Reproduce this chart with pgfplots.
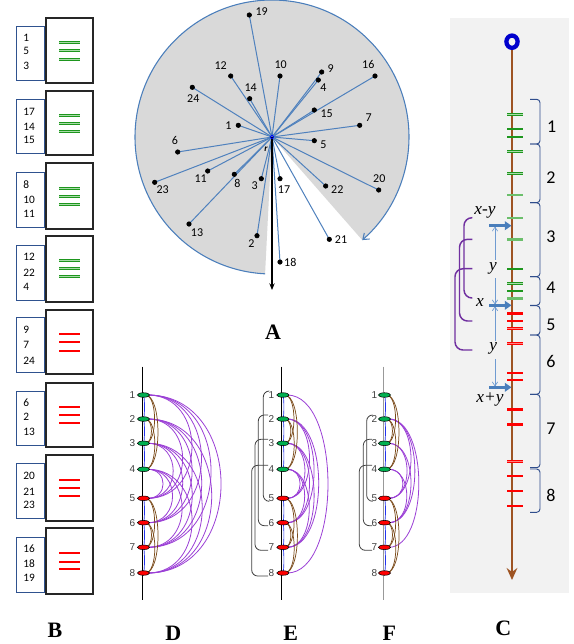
\documentclass[border=0pt]{standalone}
\usepackage{fontspec}
\setmainfont{Carlito}
\newfontfamily\serifF{Liberation Serif}
\newfontfamily\sansF{Liberation Sans}
\usepackage{pgfplots}
\pgfplotsset{compat=1.18}
\usepackage{pgfplotstable}
\usetikzlibrary{arrows.meta}

\definecolor{lineblue}{HTML}{4F81BD}
\definecolor{circblue}{HTML}{4A7EBB}
\definecolor{sectorgray}{HTML}{D9D9D9}
\definecolor{bgC}{HTML}{F2F2F2}
\definecolor{brownC}{HTML}{9E5423}
\definecolor{ringblue}{HTML}{0000CD}
\definecolor{gDark}{HTML}{1E961E}
\definecolor{gLight}{HTML}{A8DCA8}
\definecolor{gThick}{HTML}{6CBF6C}
\definecolor{rLight}{HTML}{FF8080}
\definecolor{purp}{HTML}{9B3FD6}
\definecolor{arcbrown}{HTML}{7A4A1A}
\definecolor{nodegreen}{HTML}{00B050}
\definecolor{brackblue}{HTML}{2F4D8C}
\definecolor{brackpurple}{HTML}{7030A0}
\definecolor{arrowblue}{HTML}{4A7EBB}
\definecolor{dimblue}{HTML}{6F9BD1}
\definecolor{boxblue}{HTML}{2F528F}
\definecolor{labgray}{HTML}{404040}
\definecolor{connblue}{HTML}{2233EE}

\newcommand\fsA{\fontsize{9}{10}\selectfont}
\newcommand\fsB{\fontsize{8.5}{10}\selectfont}
\newcommand\fsC{\fontsize{13.5}{14}\selectfont}
\newcommand\fsN{\sansF\fontsize{7.5}{8}\selectfont}
\newcommand\fsL{\serifF\bfseries\fontsize{16.5}{17}\selectfont}
\newcommand\fsX{\serifF\itshape\fontsize{13}{13}\selectfont}

\tikzset{
  parcs/.style={purp, line width=0.6pt},
  barcs/.style={arcbrown, line width=0.55pt},
  blarcs/.style={connblue, line width=0.5pt},
  brk/.style={labgray, line width=0.6pt, rounded corners=4.5pt},
}

% node y positions (index 1..8)
\def\NY{{0,395,419,443.3,469.3,498.3,522.7,547.3,573}}

\newcommand{\parc}[6]{%
  \pgfmathsetmacro\pya{\NY[#2]}%
  \pgfmathsetmacro\pyb{\NY[#3]}%
  \pgfmathsetmacro\pcx{#1+1.3333*(#4*(\pyb-\pya)+#5)}%
  \edef\ptmp{\noexpand\draw[#6] (axis cs:#1,\pya) .. controls (axis cs:\pcx,\pya) and (axis cs:\pcx,\pyb) .. (axis cs:#1,\pyb);}%
  \ptmp}
\newcommand\Dp[2]{\parc{147.8}{#1}{#2}{0.389}{4}{parcs}}
\newcommand\Ep[2]{\parc{287.2}{#1}{#2}{0.187}{7.5}{parcs}}
\newcommand\Fp[2]{\parc{388.8}{#1}{#2}{0.16}{9.5}{parcs}}
\newcommand\Bw[3]{\parc{#1}{#2}{#3}{0.13}{3}{barcs}}
\newcommand\Bl[3]{\parc{#1}{#2}{#3}{0}{1.2}{blarcs}}
\newcommand\brk[4]{%
  \pgfmathsetmacro\bya{\NY[#3]-4}%
  \pgfmathsetmacro\byb{\NY[#4]+3}%
  \edef\btmp{\noexpand\draw[brk] (axis cs:#2,\bya) -- (axis cs:#1,\bya) -- (axis cs:#1,\byb) -- (axis cs:#2,\byb);}%
  \btmp}
\newcommand\Bbox[4]{%
  \draw[boxblue, line width=0.7pt] (axis cs:16,#1) rectangle (axis cs:44,#2);
  \draw[black!85, line width=0.9pt] (axis cs:46,#3) rectangle (axis cs:93,#4);}
\newcommand\Bn[2]{\node[anchor=west, font=\fsB, inner sep=0pt] at (axis cs:23,#1) {#2};}
\newcommand\Cb[2]{\draw[brackblue, line width=0.7pt, rounded corners=2.5pt] (axis cs:530,#1) -- (axis cs:540,#1) -- (axis cs:540,#2) -- (axis cs:530,#2);}

% ---------------- data ----------------
\pgfplotstableread{
px py
249.3 15
230.7 76
280 76
321.7 72
318.3 80
375 76
192.3 87.3
249.7 98.7
314.3 110
238.3 125.3
359.7 125.3
177.7 152
314.3 140.7
207.7 171
234.3 174.3
154.7 182.3
261.3 178.7
280 178.7
325.7 186
378.7 190
189 224
257 235.7
329.3 239.3
280 262
}\ptsA

\pgfplotstableread{
n y
1 42
2 50
3 59
4 115
5 123
6 131
7 188
8 196
9 204
10 260
11 268
12 276
}\tickBg
\pgfplotstableread{
n y
1 334
2 342
3 351
4 407
5 415
6 423
7 480
8 488
9 496
10 553
11 562
12 569
}\tickBr

\pgfplotstableread{
n y
1 114.3
2 128.7
3 136.7
4 151
5 173.3
6 268.7
7 283.3
8 290.7
}\tickCgd
\pgfplotstableread{
n y
1 195
2 217.7
3 239.3
4 298.3
}\tickCgt
\pgfplotstableread{
n y
1 313.3
2 409.3
3 424.3
}\tickCrt
\pgfplotstableread{
n y
1 321
2 328.3
3 343.3
4 372.7
5 380
6 461.3
7 476
8 490.7
9 505.7
}\tickCrd

\pgfplotstableread{
k y
1 395
2 419
3 443.3
4 469.3
}\NG
\pgfplotstableread{
k y
5 498.3
6 522.7
7 547.3
8 573
}\NR
\pgfplotstableread{
k y
1 395
2 419
3 443.3
4 469.3
5 498.3
6 522.7
7 547.3
8 573
}\NALL

\begin{document}
\begin{tikzpicture}
\begin{axis}[
  name=main,
  x=0.75pt, y=0.75pt, y dir=reverse,
  xmin=0, xmax=574, ymin=0, ymax=644,
  hide axis, clip=false,
]
\fill[white] (axis cs:0,0) rectangle (axis cs:574,644);

% ================= Panel A =================
\fill[sectorgray] (axis cs:272,137) -- ++(-48.8:102.75pt) arc[start angle=-48.8, end angle=267.1, radius=102.75pt] -- cycle;
\draw[circblue, line width=0.8pt, -{Straight Barb[length=4pt,width=6pt]}] (axis cs:272,137) ++(267.1:102.75pt) arc[start angle=267.1, end angle=-48.8, radius=102.75pt];
\addplot[lineblue, line width=0.75pt, quiver={u=\thisrow{px}-272, v=\thisrow{py}-137}] table[x expr=272, y expr=137] {\ptsA};
\addplot[black, line width=1pt, -{Stealth[length=5pt,width=4pt]}] coordinates {(272,137) (272,290)};
\addplot[only marks, mark=*, mark size=1.7pt, black] table[x=px, y=py] {\ptsA};
\addplot[only marks, mark=o, mark size=1.4pt, mark options={blue, line width=0.6pt, fill=white}] coordinates {(272,137)};
\node[font=\fsA] at (axis cs:261.7,11.7) {19};
\node[font=\fsA] at (axis cs:220.7,65.7) {12};
\node[font=\fsA] at (axis cs:280.7,64.3) {10};
\node[font=\fsA] at (axis cs:330.7,68.3) {9};
\node[font=\fsA] at (axis cs:323.3,87.3) {4};
\node[font=\fsA] at (axis cs:368.3,64.3) {16};
\node[font=\fsA] at (axis cs:193.3,99) {24};
\node[font=\fsA] at (axis cs:250.7,87.3) {14};
\node[font=\fsA] at (axis cs:326.7,113.7) {15};
\node[font=\fsA] at (axis cs:228.3,125.3) {1};
\node[font=\fsA] at (axis cs:368.7,117.3) {7};
\node[font=\fsA] at (axis cs:175,140.7) {6};
\node[font=\fsA] at (axis cs:323.3,144.3) {5};
\node[font=\fsA] at (axis cs:200.7,178.7) {11};
\node[font=\fsA] at (axis cs:237.3,183.3) {8};
\node[font=\fsA] at (axis cs:162.7,189.3) {23};
\node[font=\fsA] at (axis cs:254.7,185.3) {3};
\node[font=\fsA] at (axis cs:284,189.3) {17};
\node[font=\fsA] at (axis cs:337.3,189.3) {22};
\node[font=\fsA] at (axis cs:379.3,178.7) {20};
\node[font=\fsA] at (axis cs:197,232.3) {13};
\node[font=\fsA] at (axis cs:251.3,243.3) {2};
\node[font=\fsA] at (axis cs:341,239.3) {21};
\node[font=\fsA] at (axis cs:290.3,262.3) {18};
\node[font=\fontsize{7}{7}\selectfont\bfseries\itshape] at (axis cs:266,149) {r};
\node[font=\fsL] at (axis cs:273,332) {A};

% ================= Panel B =================
\Bbox{26}{80}{18}{83}
\Bbox{99}{153}{91}{155}
\Bbox{172}{227}{163}{229}
\Bbox{245}{300}{236}{302}
\Bbox{317}{372}{310}{374}
\Bbox{391}{445}{383}{447}
\Bbox{463}{518}{455}{521}
\Bbox{537}{592}{528}{594}
\Bn{38}{1}\Bn{51}{5}\Bn{66}{3}
\Bn{112}{17}\Bn{127}{14}\Bn{140}{15}
\Bn{185}{8}\Bn{200}{10}\Bn{214}{11}
\Bn{257}{12}\Bn{273}{22}\Bn{287}{4}
\Bn{330}{9}\Bn{345}{7}\Bn{361}{24}
\Bn{403}{6}\Bn{417}{2}\Bn{432}{13}
\Bn{476}{20}\Bn{492}{21}\Bn{505}{23}
\Bn{549}{16}\Bn{564}{18}\Bn{578}{19}
\addplot[gLight, line width=1.5pt, quiver={u=21,v=0}] table[x expr=59, y=y] {\tickBg};
\addplot[gDark, line width=0.5pt, quiver={u=21,v=0}] table[x expr=59, y expr=\thisrow{y}-1] {\tickBg};
\addplot[gDark, line width=0.5pt, quiver={u=21,v=0}] table[x expr=59, y expr=\thisrow{y}+1] {\tickBg};
\addplot[red, line width=1.6pt, quiver={u=21,v=0}] table[x expr=59, y=y] {\tickBr};
\node[font=\fsL] at (axis cs:55,630) {B};

% ================= Panel C =================
\fill[bgC] (axis cs:450,18) rectangle (axis cs:569,593);
\addplot[brownC, line width=1.6pt, -{Stealth[length=9pt,width=8pt,inset=3pt]}] coordinates {(512,48) (512,580)};
\addplot[only marks, mark=o, mark size=4.2pt, mark options={ringblue, line width=3.2pt, yscale=1.1}] coordinates {(512,41.7)};
\addplot[gLight, line width=1.4pt, quiver={u=16,v=0}] table[x expr=507, y=y] {\tickCgd};
\addplot[gDark, line width=0.45pt, quiver={u=16,v=0}] table[x expr=507, y expr=\thisrow{y}-0.9] {\tickCgd};
\addplot[gDark, line width=0.45pt, quiver={u=16,v=0}] table[x expr=507, y expr=\thisrow{y}+0.9] {\tickCgd};
\addplot[gThick, line width=1.8pt, quiver={u=16,v=0}] table[x expr=507, y=y] {\tickCgt};
\addplot[red, line width=2.2pt, quiver={u=16,v=0}] table[x expr=507, y=y] {\tickCrt};
\addplot[rLight, line width=1.5pt, quiver={u=16,v=0}] table[x expr=507, y=y] {\tickCrd};
\addplot[red, line width=0.5pt, quiver={u=16,v=0}] table[x expr=507, y expr=\thisrow{y}-0.8] {\tickCrd};
\addplot[red, line width=0.5pt, quiver={u=16,v=0}] table[x expr=507, y expr=\thisrow{y}+0.8] {\tickCrd};
% right brackets
\Cb{99.3}{144}\Cb{144}{202.7}\Cb{202.7}{276.7}\Cb{276.7}{305.3}
\Cb{305.7}{335}\Cb{335}{394.3}\Cb{394.3}{467.7}\Cb{469}{512.3}
\node[font=\fsC] at (axis cs:551.7,126.7) {1};
\node[font=\fsC] at (axis cs:551,177.7) {2};
\node[font=\fsC] at (axis cs:551,236.7) {3};
\node[font=\fsC] at (axis cs:551,287.3) {4};
\node[font=\fsC] at (axis cs:551,325) {5};
\node[font=\fsC] at (axis cs:551,361) {6};
\node[font=\fsC] at (axis cs:551,428.3) {7};
\node[font=\fsC] at (axis cs:551,495) {8};
% purple brackets
\draw[brackpurple, line width=1.1pt, rounded corners=6pt] (axis cs:472.3,217.7) -- (axis cs:464,217.7) -- (axis cs:464,298) -- (axis cs:472.3,298);
\draw[brackpurple, line width=1.1pt, rounded corners=6pt] (axis cs:472.3,239.3) -- (axis cs:459.5,239.3) -- (axis cs:459.5,321) -- (axis cs:472.3,321);
\draw[brackpurple, line width=1.1pt, rounded corners=6pt] (axis cs:472.3,268.7) -- (axis cs:455,268.7) -- (axis cs:455,350) -- (axis cs:472.3,350);
% dimension lines
\draw[dimblue, line width=0.5pt, {Straight Barb[length=3pt,width=4pt]}-] (axis cs:495,226.5) -- (axis cs:495,260);
\draw[dimblue, line width=0.5pt, -{Straight Barb[length=3pt,width=4pt]}] (axis cs:495,278) -- (axis cs:495,304.5);
\draw[dimblue, line width=0.5pt, {Straight Barb[length=3pt,width=4pt]}-] (axis cs:495,306.2) -- (axis cs:495,341);
\draw[dimblue, line width=0.5pt, -{Straight Barb[length=3pt,width=4pt]}] (axis cs:495,359) -- (axis cs:495,386.5);
\addplot[arrowblue, line width=2pt, -{Triangle[length=5pt,width=6.5pt]}] coordinates {(489,225.7) (511.5,225.7)};
\addplot[arrowblue, line width=2pt, -{Triangle[length=5pt,width=6.5pt]}] coordinates {(489,305.3) (511.5,305.3)};
\addplot[arrowblue, line width=2pt, -{Triangle[length=5pt,width=6.5pt]}] coordinates {(489,387.3) (511.5,387.3)};
\node[font=\fsX] at (axis cs:485,212) {x-y};
\node[font=\fsX] at (axis cs:493,268) {y};
\node[font=\fsX] at (axis cs:480,303) {x};
\node[font=\fsX] at (axis cs:493.3,348) {y};
\node[font=\fsX] at (axis cs:490,399) {x+y};
\node[font=\fsL] at (axis cs:503.3,628) {C};

% ================= Panels D, E, F =================
\addplot[black, line width=0.7pt] coordinates {(142.3,366.7) (142.3,600)};
\addplot[black, line width=0.7pt] coordinates {(281.7,366.7) (281.7,600)};
\addplot[black!40, line width=0.7pt] coordinates {(383.3,366.7) (383.3,600)};

% D purple: all green-red pairs
\Dp{1}{5}\Dp{1}{6}\Dp{1}{7}\Dp{1}{8}
\Dp{2}{5}\Dp{2}{6}\Dp{2}{7}\Dp{2}{8}
\Dp{3}{5}\Dp{3}{6}\Dp{3}{7}\Dp{3}{8}
\Dp{4}{5}\Dp{4}{6}\Dp{4}{7}\Dp{4}{8}
% E purple
\Ep{1}{8}
\Ep{2}{5}\Ep{2}{6}\Ep{2}{7}
\Ep{3}{5}\Ep{3}{6}\Ep{3}{7}
\Ep{4}{5}\Ep{4}{6}\Ep{4}{7}
% F purple
\Fp{2}{5}\Fp{2}{6}\Fp{2}{7}
\Fp{3}{5}\Fp{3}{6}
\Fp{4}{5}\Fp{4}{6}

% brown and blue arcs in each panel
\Bw{145.3}{1}{3}\Bw{145.3}{1}{4}\Bw{145.3}{2}{3}\Bw{145.3}{2}{4}
\Bw{145.3}{5}{7}\Bw{145.3}{5}{8}\Bw{145.3}{6}{7}\Bw{145.3}{6}{8}
\Bw{284.7}{1}{3}\Bw{284.7}{1}{4}\Bw{284.7}{2}{3}\Bw{284.7}{2}{4}
\Bw{284.7}{5}{7}\Bw{284.7}{5}{8}\Bw{284.7}{6}{7}\Bw{284.7}{6}{8}
\Bw{386.3}{1}{3}\Bw{386.3}{1}{4}\Bw{386.3}{2}{3}\Bw{386.3}{2}{4}
\Bw{386.3}{5}{7}\Bw{386.3}{5}{8}\Bw{386.3}{6}{7}\Bw{386.3}{6}{8}
\Bl{143.3}{1}{2}\Bl{143.3}{2}{3}\Bl{143.3}{3}{4}\Bl{143.3}{5}{6}\Bl{143.3}{6}{7}\Bl{143.3}{7}{8}
\Bl{282.7}{1}{2}\Bl{282.7}{2}{3}\Bl{282.7}{3}{4}\Bl{282.7}{5}{6}\Bl{282.7}{6}{7}\Bl{282.7}{7}{8}
\Bl{384.3}{1}{2}\Bl{384.3}{2}{3}\Bl{384.3}{3}{4}\Bl{384.3}{5}{6}\Bl{384.3}{6}{7}\Bl{384.3}{7}{8}

% brackets E and F
\brk{263.3}{269}{1}{5}\brk{258.3}{268}{2}{6}\brk{255}{268}{3}{7}\brk{251.7}{268}{4}{8}
\brk{366.7}{372}{2}{5}\brk{363.3}{372}{3}{6}\brk{359.3}{372}{4}{7}

% nodes
\addplot[only marks, mark=*, mark size=1.7pt, mark options={xscale=2.7, draw=none, fill=nodegreen}] table[x expr=143.5, y=y] {\NG};
\addplot[only marks, mark=*, mark size=1.7pt, mark options={xscale=2.7, draw=none, fill=red}] table[x expr=143.5, y=y] {\NR};
\addplot[only marks, mark=*, mark size=1.7pt, mark options={xscale=2.7, draw=none, fill=nodegreen}] table[x expr=282.9, y=y] {\NG};
\addplot[only marks, mark=*, mark size=1.7pt, mark options={xscale=2.7, draw=none, fill=red}] table[x expr=282.9, y=y] {\NR};
\addplot[only marks, mark=*, mark size=1.7pt, mark options={xscale=2.7, draw=none, fill=nodegreen}] table[x expr=384.5, y=y] {\NG};
\addplot[only marks, mark=*, mark size=1.7pt, mark options={xscale=2.7, draw=none, fill=red}] table[x expr=384.5, y=y] {\NR};
% node labels
\addplot[only marks, mark=none, nodes near coords, point meta=explicit symbolic,
  nodes near coords style={anchor=east, inner sep=0pt, font=\fsN, text=labgray}] table[x expr=135.5, y=y, meta=k] {\NALL};
\addplot[only marks, mark=none, nodes near coords, point meta=explicit symbolic,
  nodes near coords style={anchor=east, inner sep=0pt, font=\fsN, text=labgray}] table[x expr=274.5, y=y, meta=k] {\NALL};
\addplot[only marks, mark=none, nodes near coords, point meta=explicit symbolic,
  nodes near coords style={anchor=east, inner sep=0pt, font=\fsN, text=labgray}] table[x expr=377.5, y=y, meta=k] {\NALL};

\node[font=\fsL] at (axis cs:173.3,633) {D};
\node[font=\fsL] at (axis cs:290.7,633) {E};
\node[font=\fsL] at (axis cs:389.3,633) {F};
\end{axis}
\pgfresetboundingbox
\useasboundingbox (main.south west) rectangle (main.north east);
\end{tikzpicture}
\end{document}
